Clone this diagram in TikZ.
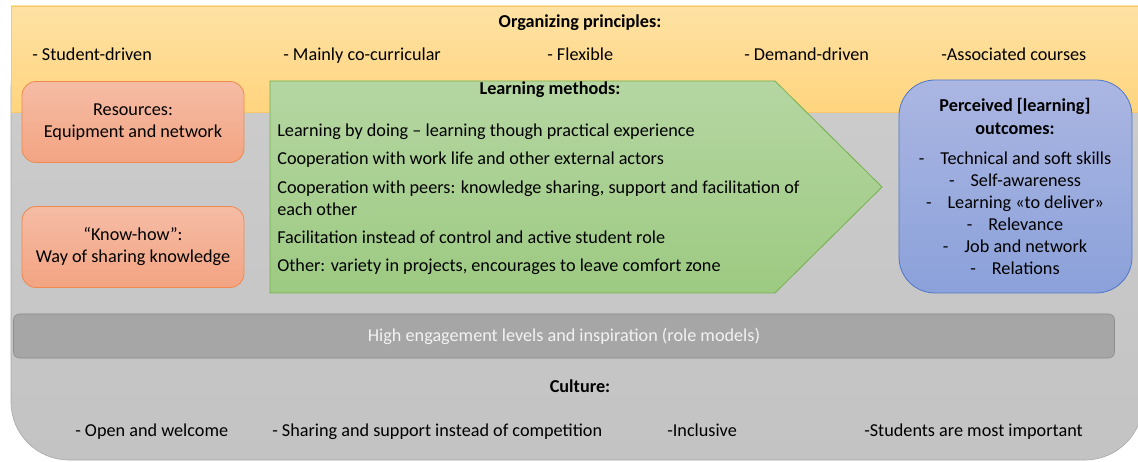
\documentclass[tikz,border=0pt]{standalone}
\usepackage{fontspec}
\setmainfont{Carlito}
\usepackage{xcolor}
\usetikzlibrary{positioning}
\usetikzlibrary{math}
\usetikzlibrary{calc}

\definecolor{orgtop}{HTML}{FEE2A4}
\definecolor{orgbot}{HTML}{FFD47E}
\definecolor{orgline}{HTML}{F7C96A}
\definecolor{cultop}{HTML}{CDCDCD}
\definecolor{culbot}{HTML}{C3C3C3}
\definecolor{culline}{HTML}{A8A8A8}
\definecolor{restop}{HTML}{F5BCA5}
\definecolor{resbot}{HTML}{F3A482}
\definecolor{resline}{HTML}{EE8A4F}
\definecolor{methtop}{HTML}{B5D6A2}
\definecolor{methbot}{HTML}{9DCA82}
\definecolor{methline}{HTML}{74B04B}
\definecolor{outtop}{HTML}{ABB6E2}
\definecolor{outbot}{HTML}{8BA1DA}
\definecolor{outline}{HTML}{4F77C7}
\definecolor{barfill}{HTML}{A6A6A6}
\definecolor{barline}{HTML}{8C8C8C}
\definecolor{bartext}{HTML}{F2F2F2}

\tikzset{
  plain/.style={inner sep=0pt, text=black},
  rowitem/.style={plain, anchor=base west},
  titletext/.style={plain, anchor=base, font=\fontsize{18.2}{22}\selectfont\bfseries},
  resbox/.style={draw=resline, top color=restop, bottom color=resbot,
    rounded corners=14pt, minimum width=222pt, minimum height=81pt,
    align=center, line width=0.8pt},
  methitem/.style={plain, anchor=base west, align=left},
  outitem/.style={plain, align=center}
}

\begin{document}
\begin{tikzpicture}[x=1pt,y=-1pt,line width=0.6pt,font=\fontsize{18.2}{22}\selectfont]

  \tikzmath{
    \leftx   = 11;   % left edge of the two bands
    \rightx  = 1143; % right edge of the two bands (off the page)
    \bandtop = 6;    % top of organizing band
    \bandbot = 112;  % bottom of organizing band
    \culbot  = 460;  % bottom of culture band
    \arrl    = 270;  % left side of methods arrow
    \arrk    = 775;  % knee of methods arrow
    \arrt    = 882;  % tip of methods arrow
    \arru    = 81;   % top of methods arrow
    \arrd    = 293;  % bottom of methods arrow
    \rowy    = 61;   % baseline of the principles row
    \cully   = 436;  % baseline of the culture row
  }

  \useasboundingbox (0,0) rectangle (1138,462);

  % Culture band, its top corners lie under the organizing band
  \draw[draw=culline, top color=cultop, bottom color=culbot, rounded corners=58pt]
    (\leftx, 30) rectangle (\rightx, \culbot);

  % Organizing band
  \draw[draw=orgline, top color=orgtop, bottom color=orgbot]
    (\leftx, \bandtop) rectangle (\rightx, \bandbot);

  \node[titletext] (orgtitle) at (580,28) {Organizing principles:};
  \node[rowitem] (org1) at (32,\rowy)  {- Student-driven};
  \node[rowitem] (org2) at (283,\rowy) {- Mainly co-curricular};
  \node[rowitem] (org3) at (547,\rowy) {- Flexible};
  \node[rowitem] (org4) at (744,\rowy) {- Demand-driven};
  \node[rowitem] (org5) at (941,\rowy) {-Associated courses};

  % Resources
  \node[resbox] (resources) at (133,122) {Resources:\\Equipment and network};
  \node[resbox] (knowhow)   at (133,247) {“Know-how”:\\Way of sharing knowledge};

  % Learning methods arrow
  \coordinate (A) at (\arrl, \arru);
  \coordinate (B) at (\arrk, \arru);
  \coordinate (C) at (\arrt, {(\arru+\arrd)/2});
  \coordinate (D) at (\arrk, \arrd);
  \coordinate (E) at (\arrl, \arrd);
  \draw[draw=methline, top color=methtop, bottom color=methbot, line width=0.8pt]
    (A) -- (B) -- (C) -- (D) -- (E) -- cycle;

  \node[titletext] (methtitle) at (550,95) {Learning methods:};
  \node[methitem] (meth1) at (277,137) {Learning by doing – learning though practical experience};
  \node[methitem] (meth2) at (277,165) {Cooperation with work life and other external actors};
  \node[plain, anchor=west, align=left] (meth3) at (277,198) {Cooperation with peers: knowledge sharing, support and facilitation of\\each other};
  \node[methitem] (meth4) at (277,244) {Facilitation instead of control and active student role};
  \node[methitem] (meth5) at (277,272) {Other: variety in projects, encourages to leave comfort zone};

  % Perceived outcomes
  \draw[draw=outline, top color=outtop, bottom color=outbot, rounded corners=36pt, line width=0.8pt]
    (899,80) rectangle (1132,293);
  \node[outitem, font=\fontsize{18.2}{23}\selectfont\bfseries] (outtitle) at (1015,116)
    {Perceived [learning]\\outcomes:};
  \node[outitem] (outlist) at (1015,213)
    {-\hspace{16pt}Technical and soft skills\\
     -\hspace{16pt}Self-awareness\\
     -\hspace{16pt}Learning «to deliver»\\
     -\hspace{16pt}Relevance\\
     -\hspace{16pt}Job and network\\
     -\hspace{16pt}Relations};

  % Engagement bar
  \node[draw=barline, fill=barfill, text=bartext, rounded corners=6pt,
    minimum width=1101pt, minimum height=44pt] (engage) at (564,336)
    {High engagement levels and inspiration (role models)};

  % Culture row
  \node[titletext] (cultitle) at (580,392) {Culture:};
  \node[rowitem] (cul1) at (75,\cully)  {- Open and welcome};
  \node[rowitem] (cul2) at (272,\cully) {- Sharing and support instead of competition};
  \node[rowitem] (cul3) at (667,\cully) {-Inclusive};
  \node[rowitem] (cul4) at (864,\cully) {-Students are most important};

\end{tikzpicture}
\end{document}
